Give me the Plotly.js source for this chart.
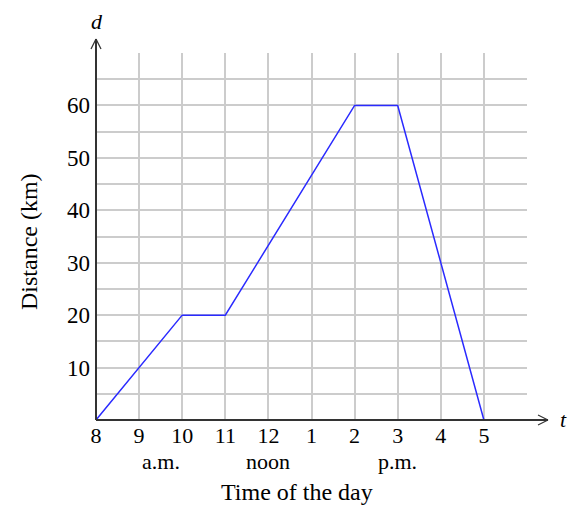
<!DOCTYPE html>
<html><head><meta charset="utf-8">
<script src="https://cdn.plot.ly/plotly-3.0.1.min.js"></script>
<style>body{margin:0;background:#fff}#c{width:576px;height:507px}</style>
</head><body><div id="c"></div>
<script>
// Hours on a 24h clock (8 a.m. .. 5 p.m.)
const hours = [8, 10, 11, 14, 15, 17];
const distanceKm = [0, 20, 20, 60, 60, 0];
const tickHours = [8, 9, 10, 11, 12, 13, 14, 15, 16, 17];
const tickLabels = ['8', '9', '10', '11', '12', '1', '2', '3', '4', '5'];
const yTicks = [10, 20, 30, 40, 50, 60];
const periodLabels = ['a.m.', 'noon', 'p.m.'];
const periodHours = [9.5, 12, 15];

const FONT = 'Liberation Serif, Times New Roman, serif';
const L = 96, R = 49, T = 53, B = 87, W = 576, H = 507;
const pw = W - L - R, ph = H - T - B;
const px = x => (x - L) / pw;          // pixel -> paper x
const py = y => (H - B - y) / ph;      // pixel -> paper y

const trace = {
  x: hours, y: distanceKm, type: 'scatter', mode: 'lines',
  line: {color: '#2a2aff', width: 1.5}, cliponaxis: false, hoverinfo: 'skip'
};

const axisCol = '#333333';
const shapes = [
  // y axis with arrow
  {type: 'line', xref: 'paper', yref: 'paper', x0: 0, x1: 0, y0: 0, y1: py(39), line: {color: axisCol, width: 2}},
  {type: 'line', xref: 'paper', yref: 'paper', x0: px(91), x1: 0, y0: py(49), y1: py(39), line: {color: axisCol, width: 1.2}},
  {type: 'line', xref: 'paper', yref: 'paper', x0: px(101), x1: 0, y0: py(49), y1: py(39), line: {color: axisCol, width: 1.2}},
  // x axis with arrow
  {type: 'line', xref: 'paper', yref: 'paper', x0: 0, x1: px(548), y0: 0, y1: 0, line: {color: axisCol, width: 2}},
  {type: 'line', xref: 'paper', yref: 'paper', x0: px(538), x1: px(548), y0: py(415), y1: 0, line: {color: axisCol, width: 1.2}},
  {type: 'line', xref: 'paper', yref: 'paper', x0: px(538), x1: px(548), y0: py(425), y1: 0, line: {color: axisCol, width: 1.2}}
];

const ann = (text, x, y, size, extra) => Object.assign({
  text: text, xref: 'paper', yref: 'paper', x: px(x), y: py(y), xanchor: 'center', yanchor: 'middle',
  showarrow: false, font: {family: FONT, size: size, color: '#000'}
}, extra || {});

const annotations = [
  ann('<i>d</i>', 97, 22, 22),
  ann('<i>t</i>', 563, 419, 22),
  ann('Time of the day', 297, 492, 24),
  ann('Distance (km)', 29, 242, 24, {textangle: -90})
];
periodLabels.forEach((t, i) => annotations.push({
  text: t, xref: 'x', yref: 'paper', x: periodHours[i], y: py(461), xanchor: 'center', yanchor: 'middle',
  showarrow: false, font: {family: FONT, size: 22, color: '#000'}
}));

const layout = {
  width: W, height: H, margin: {l: L, r: R, t: T, b: B},
  paper_bgcolor: '#fff', plot_bgcolor: '#fff', showlegend: false,
  font: {family: FONT, size: 22, color: '#000'},
  xaxis: {range: [8, 18], tickvals: tickHours, ticktext: tickLabels, showgrid: false, zeroline: false,
          showline: false, ticks: '', ticklen: 0, tickfont: {family: FONT, size: 22, color: '#000'}, fixedrange: true},
  yaxis: {range: [0, 70], tickvals: yTicks, showgrid: false, zeroline: false, showline: false, ticks: '',
          ticklabelstandoff: 5, tickfont: {family: FONT, size: 23, color: '#000'}, fixedrange: true},
  xaxis2: {overlaying: 'x', matches: 'x', dtick: 1, tick0: 8, showgrid: true, gridcolor: '#cccccc', gridwidth: 2,
           showticklabels: false, zeroline: false, range: [8, 18]},
  yaxis2: {overlaying: 'y', dtick: 5, tick0: 0, showgrid: true, gridcolor: '#cccccc', gridwidth: 2,
           showticklabels: false, zeroline: false, range: [0, 70]},
  shapes: shapes, annotations: annotations
};

// grid via a second (invisible) trace on the secondary axes
const gridTrace = {x: [8, 18], y: [0, 70], xaxis: 'x2', yaxis: 'y2', mode: 'markers', marker: {opacity: 0}, hoverinfo: 'skip'};

Plotly.newPlot('c', [gridTrace, trace], layout, {staticPlot: true});
</script></body></html>
